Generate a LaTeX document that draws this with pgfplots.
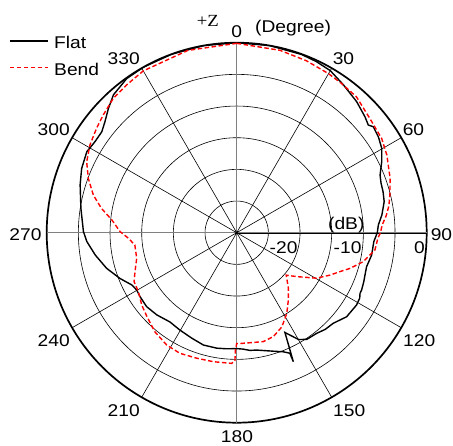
\documentclass[border=0pt]{standalone}
\usepackage{fontspec}
\setmainfont[FakeStretch=1.13]{Liberation Sans}
\newfontfamily\seriffont[FakeStretch=1.1]{Liberation Serif}
\usepackage{pgfplots}
\usepgfplotslibrary{polar}
\pgfplotsset{compat=1.18}
\usepackage{pgfplotstable}

% angle (deg, clockwise from +Z) and gain (dB)
\pgfplotstableread{
a db
0 0
10 0
20 -0.05
25 -0.2
30 -0.45
35.8 -1.2
42.5 -1.95
47.9 -2.7
50.7 -3.15
52.2 -2.7
56 -3.0
59.8 -3.5
63.9 -4.5
68.1 -5.6
71 -5.9
74.4 -6.0
78.1 -6.2
83 -6.9
86.9 -7.6
90 -7.8
93.7 -8.3
99.4 -8.4
104.7 -8.8
107.6 -8.7
111 -8.5
114.6 -8.3
116.2 -8.3
118 -8.0
121.1 -7.9
127.4 -8.15
133.2 -9.1
137.5 -9.3
141.5 -9.7
146.7 -9.85
149.9 -10.5
154.2 -12.5
156.3 -7.75
156.2 -9.2
158.6 -9.8
164.3 -10.6
170.3 -11.2
173.6 -11.3
177 -11.6
180 -11.7
185 -11.6
189.8 -11.5
196.5 -11.5
203.1 -11.9
210.2 -12.2
216.8 -12.4
224.2 -11.9
230.6 -11.6
236.5 -11.7
240.2 -11.8
243.5 -11.5
248.6 -10.2
254.7 -8.7
261 -7.4
266.6 -6.3
270.4 -5.8
278.9 -5.1
287 -4.15
292.5 -3.5
298.4 -3.1
302.7 -3.4
306.8 -3.4
310.1 -2.8
314.1 -1.8
318.2 -0.8
324.5 -0.1
330.6 0
340 0
350 0
360 0
}\flat

\pgfplotstableread{
a db
0 -0.1
13.3 -0.4
22 -0.7
29.9 -1.0
35 -1.2
41.4 -1.4
49.4 -2.3
57 -2.7
62.6 -3.3
66 -3.8
70.5 -4.3
76.2 -5.1
80 -5.6
83.3 -6.2
87 -7.0
90 -7.3
92.3 -7.7
97.1 -8.0
102.9 -9.5
107.5 -11.25
110.7 -12.6
114.4 -13.8
119.7 -15.5
126.3 -18.3
130.6 -19.7
137.1 -18.0
142.5 -16.6
148.2 -15.0
154.4 -13.5
160.6 -12.6
166.3 -12.3
173.1 -12.5
178 -12.5
180 -12.5
180.6 -11.5
180.8 -9.8
182.2 -9.35
190.3 -9.3
197.7 -9.2
205.2 -8.95
211.9 -9.1
219.5 -9.7
226.9 -10.6
232.7 -11.15
239 -11.9
244.5 -12.05
249 -12.8
255.6 -13.7
263.1 -13.8
267 -12.9
270.5 -11.6
275.8 -10.2
280.2 -8.3
284.7 -6.6
290.1 -5.05
295.3 -3.8
300.9 -3.0
306.7 -2.4
311.4 -1.9
317.4 -1.2
323.3 -0.9
330 -0.5
345 -0.2
360 -0.1
}\bend

\begin{document}
\fontsize{17}{20}\selectfont
\begin{tikzpicture}[x=1pt,y=1pt]
\useasboundingbox (-236.7,-212.3) rectangle (216.3,232.7);
\begin{polaraxis}[
  at={(0,0)}, anchor=origin,
  width=380pt, height=380pt, scale only axis,
  ymin=0, ymax=30,
  xtick={30,60,120,150,210,240,300,330},
  ytick={5,10,15,20,25},
  xticklabels={}, yticklabels={},
  grid=major,
  major grid style={black, line width=0.6pt},
  extra x ticks={0,90,180,270},
  extra x tick labels={},
  extra x tick style={grid=major, major grid style={gray, line width=1.1pt}},
  axis line style={line width=1.7pt},
  tick style={draw=none},
]
\addplot[black, line width=1.4pt, no marks] table[x expr={90-\thisrow{a}}, y expr={\thisrow{db}+30}] {\flat};
\addplot[red, line width=1.4pt, no marks, dash pattern=on 4.5pt off 2.5pt] table[x expr={90-\thisrow{a}}, y expr={\thisrow{db}+30}] {\bend};
\end{polaraxis}
\fill (0,0) circle (1.5pt);
% legend
\draw[black, line width=1.4pt] (-226.7,191.7) -- (-188.7,191.7);
\node[anchor=base west, inner sep=0] at (-182.7,184.4) {Flat};
\draw[red, line width=1.4pt, dash pattern=on 4.5pt off 2.5pt] (-226.7,165) -- (-188.7,165);
\node[anchor=base west, inner sep=0] at (-182.7,157) {Bend};
% angular labels
\node[anchor=base] at (0,195.4) {0};
\node[anchor=base west, inner sep=0] at (18.3,200.4) {(Degree)};
\node[anchor=base west, inner sep=0] at (-40,206.7) {\seriffont +Z};
\node[anchor=base] at (106.8,168.7) {30};
\node[anchor=base] at (-113,168.7) {330};
\node[anchor=base] at (176.8,97.7) {60};
\node[anchor=base] at (-183,97.7) {300};
\node[anchor=base east, inner sep=0] at (-195,-8) {270};
\node[anchor=base] at (204.8,-8) {90};
\node[anchor=base] at (182.5,-114) {120};
\node[anchor=base] at (-183,-114) {240};
\node[anchor=base] at (112.5,-184) {150};
\node[anchor=base] at (-113,-184) {210};
\node[anchor=base] at (0.3,-209.6) {180};
% radial labels
\node[anchor=base east, inner sep=0] at (61,-20.6) {-20};
\node[anchor=base east, inner sep=0] at (125,-20.6) {-10};
\node[anchor=base east, inner sep=0] at (188.3,-20.6) {0};
\node[anchor=base] at (109.6,3) {(dB)};
\end{tikzpicture}
\end{document}
